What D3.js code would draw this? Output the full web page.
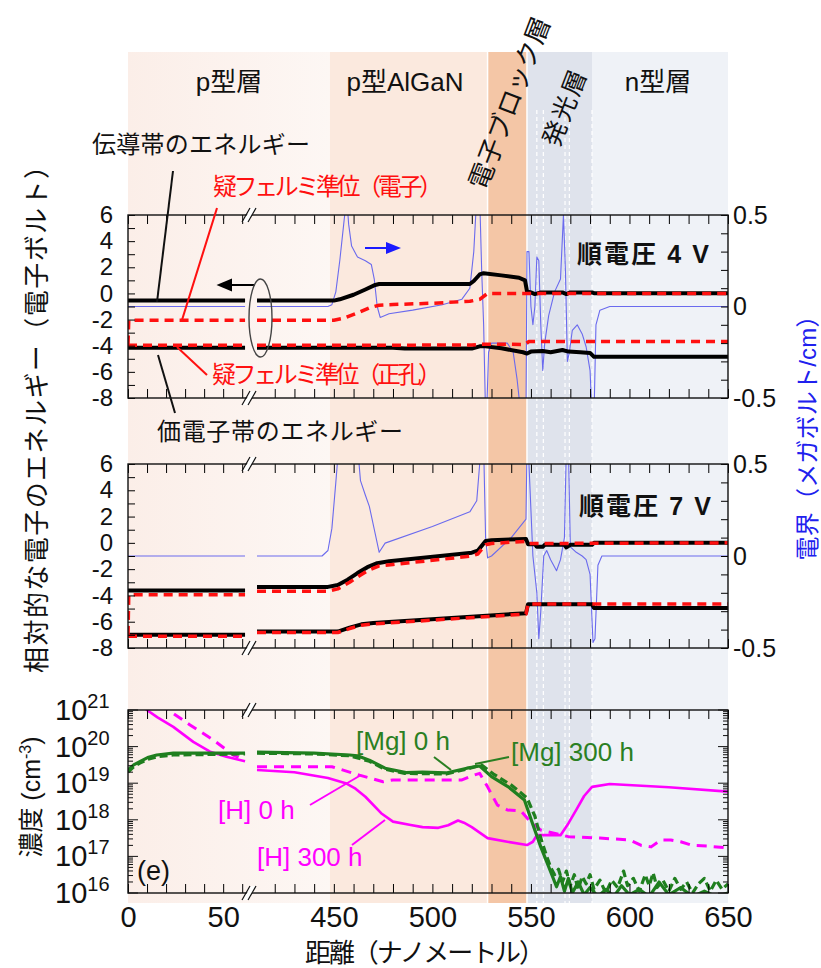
<!DOCTYPE html>
<html>
<head>
<meta charset="UTF-8">
<title>LED band diagram</title>
<script src="https://cdn.jsdelivr.net/npm/d3@7"></script>
<style>
body { margin: 0; background: #fff; }
text { font-family: "Liberation Sans", "Noto Sans CJK JP", sans-serif; fill: #111; }
</style>
</head>
<body>
<script>
// ---- data (distance in nm) ----
var layerEdges = [0, 448, 528, 548, 581, 650];
var layerColors = ["#fcf2ed", "#fbe9de", "#f4c6a6", "#dfe3ec", "#eff2f7"];
var wellEdges = [553, 556.3, 567.3, 569.5, 581];

var xTickLabels = [0, 50, 450, 500, 550, 600, 650];
var xMinorTicks = [0, 10, 20, 30, 40, 50, 60].concat(d3.range(420, 651, 10));
var energyTicks = [6, 4, 2, 0, -2, -4, -6, -8];
var fieldTicks = [0.5, 0, -0.5];
var concDecades = [16, 17, 18, 19, 20, 21];

var BRK = null; // axis break

// forward voltage 4 V
var cb4 = [[0,-0.55],[61.5,-0.55],BRK,[411,-0.55],[450,-0.55],[453,-0.45],[460,-0.1],[466,0.3],[471,0.65],[473,0.72],[519,0.72],[521,0.95],[524,1.45],[526,1.55],[535,1.38],[544,1.2],[547,1.0],[548,0.15],[550,0.08],[552,-0.05],[555,0.08],[566,0.08],[568,-0.05],[570,0.08],[581,0.08],[582,0.02],[650,0.02]];
var efn4 = [[0,-3.9],[0.4,-2.05],[61.5,-2.05],BRK,[411,-2.05],[450,-2.05],[455,-1.9],[462,-1.5],[468,-1.1],[473,-0.9],[480,-0.85],[500,-0.75],[519,-0.6],[524,-0.45],[528,0],[650,0]];
var efp4 = [[0,-3.97],[61.5,-3.97],BRK,[411,-3.97],[520,-3.95],[525,-3.88],[547,-3.9],[549,-3.68],[650,-3.68]];
var vb4 = [[0,-4.15],[61.5,-4.15],BRK,[411,-4.15],[480,-4.15],[486,-4.22],[520,-4.22],[524,-4.05],[527,-4.05],[535,-4.2],[546,-4.5],[548,-4.6],[550,-4.45],[556,-4.4],[560,-4.5],[566,-4.33],[569,-4.45],[575,-4.5],[580,-4.55],[582,-4.85],[650,-4.85]];
var ef4 = [[0,0],[61.5,0],BRK,[411,0],[447,0],[449,0.01],[451,0.08],[453,0.25],[455,0.45],[456.5,0.6],[457.5,0.45],[459,0.33],[462,0.27],[466,0.25],[469,0.23],[470.5,0.15],[472,0.0],[473.5,-0.06],[478,-0.04],[490,-0.02],[505,0.01],[515,0.04],[519,0.1],[521,0.3],[522.5,0.6],[524,0.6],[525,0.2],[526,-0.1],[527,-0.6],[527.5,-0.6],[528.5,-0.25],[530,-0.2],[538,-0.2],[541,-0.25],[543,-0.4],[545,-0.6],[547.5,-0.6],[548,0.3],[549,0.3],[550,0.0],[551,-0.1],[552,0.0],[553,0.27],[554,0.25],[555,-0.1],[556,-0.35],[557,-0.2],[559,-0.05],[562,0.08],[565,0.15],[566.5,0.5],[567.5,0.2],[568.5,-0.3],[569.5,-0.25],[571,-0.13],[573.5,-0.1],[576,-0.15],[578,-0.22],[580,-0.35],[581,-0.6],[582,-0.6],[583,-0.1],[585,-0.02],[590,0],[650,0]];

// forward voltage 7 V
var cb7 = [[0,-3.62],[61.5,-3.62],BRK,[411,-3.35],[447,-3.35],[452,-3.2],[457,-2.8],[462,-2.3],[467,-1.85],[472,-1.55],[478,-1.4],[520,-0.75],[523,-0.6],[527,0.15],[530,0.2],[547.5,0.3],[548.5,-0.1],[552,-0.1],[553,-0.3],[556,-0.3],[557,-0.15],[567,-0.15],[568,-0.35],[570,-0.15],[581,-0.15],[582,0.0],[650,0.0]];
var efn7 = [[0,-7.0],[0.4,-3.95],[61.5,-3.95],BRK,[411,-3.68],[447,-3.68],[452,-3.5],[458,-3.0],[463,-2.5],[468,-2.05],[473,-1.75],[480,-1.65],[520,-1.0],[523,-0.85],[527,-0.15],[530,-0.05],[547.5,0.12],[549,-0.05],[650,0.0]];
var vb7 = [[0,-7.0],[61.5,-7.0],BRK,[411,-6.75],[452,-6.75],[458,-6.45],[464,-6.2],[470,-6.1],[547.5,-5.35],[548.5,-4.68],[581,-4.68],[582,-4.95],[650,-4.95]];
var efp7 = [[0,-7.1],[61.5,-7.1],BRK,[411,-6.82],[452,-6.82],[458,-6.52],[464,-6.27],[470,-6.17],[547.5,-5.42],[548.5,-4.66],[650,-4.66]];
var ef7 = [[0,0],[61.5,0],BRK,[411,0],[444,0],[447,0.03],[449,0.15],[451,0.4],[452.5,0.6],[462,0.6],[463.5,0.41],[466,0.33],[468,0.27],[471,0.12],[473,0.02],[476,0.07],[500,0.16],[519,0.24],[522.5,0.3],[524,0.5],[525,0.6],[526,0.6],[527,0.1],[528,-0.01],[530,0.0],[540,0.1],[547.5,0.2],[548,0.6],[549,0.5],[551,0.0],[553,-0.2],[554,-0.45],[555,-0.3],[556.5,0.0],[558,0.03],[560,-0.02],[563,-0.08],[565,-0.02],[567,0.1],[568,0.6],[569,0.6],[570,0.05],[573,0.02],[576,0.0],[578,-0.02],[580,-0.1],[581.5,-0.47],[582.5,-0.45],[584,-0.05],[586,0.0],[650,0.0]];

// concentrations, log10(cm^-3)
var h0 = [[7,21.2],[9.9,21.0],[15.5,20.8],[23.8,20.54],[34.3,20.13],[43.1,19.86],[51.7,19.72],[61.5,19.6],BRK,[411,19.36],[430,19.3],[447,19.14],[456,19.0],[461,18.85],[466,18.63],[474,18.18],[480,17.95],[489,17.86],[495,17.8],[503,17.78],[508,17.85],[513,17.98],[516,17.92],[520,17.8],[528,17.5],[538,17.4],[548,17.31],[551,17.4],[553,17.58],[565,17.58],[569,17.9],[573,18.27],[577,18.65],[581,18.9],[590,18.98],[620,18.89],[650,18.77]];
var h300 = [[17.5,21.2],[21.2,21.0],[32.6,20.59],[44.9,20.18],[55.3,19.77],[61.5,19.63],BRK,[411,19.45],[449,19.45],[463,19.22],[475,19.04],[480,19.09],[515,19.09],[520,19.2],[524,19.27],[528,18.9],[533,18.4],[538,18.27],[545,18.24],[549,17.99],[555,17.72],[569,17.54],[585,17.5],[600,17.45],[606,17.3],[611,17.26],[616,17.45],[621,17.45],[626,17.4],[632,17.3],[640,17.28],[650,17.23]];
var mg0 = [[0,19.36],[3,19.5],[6.2,19.59],[10.3,19.7],[15.1,19.77],[23.8,19.82],[61.5,19.82],BRK,[411,19.85],[440,19.82],[458,19.77],[462,19.75],[468,19.63],[476,19.41],[486.6,19.29],[495,19.3],[507,19.28],[517.5,19.41],[524,19.47],[530,19.18],[538.5,18.9],[546.7,18.54],[550.8,17.9],[555,17.26],[559,16.72],[563,16.17],[565,16.45],[567,16.05],[569,16.4],[571,16.0],[574,16.3],[577,15.95],[580,16.15],[584,15.9],[588,16.1],[592,15.9],[596,16.2],[600,15.95],[605,16.1],[610,15.9],[615,16.3],[620,15.95],[626,16.15],[632,15.9],[638,16.05],[644,15.9],[650,16.0]];
var mg300 = [[0,19.3],[3,19.45],[6.2,19.55],[10.3,19.65],[15.1,19.72],[23.8,19.77],[61.5,19.8],BRK,[411,19.82],[440,19.8],[458,19.75],[468,19.6],[476,19.38],[486,19.27],[507,19.25],[517,19.38],[525,19.5],[531,19.25],[540,18.95],[548,18.6],[552,18.1],[555,17.5],[558,17.0],[560,16.7],[562,16.5],[564,16.65],[566,16.3],[568,16.6],[570,16.2],[572,16.5],[574,16.1],[576,16.45],[578,16.25],[580,16.5],[582,16.1],[585,16.35],[588,16.0],[591,16.35],[594,16.15],[597,16.6],[599,16.2],[602,16.4],[605,16.05],[608,16.5],[610,16.2],[612,16.55],[614,16.15],[617,16.35],[620,16.05],[623,16.4],[626,16.1],[629,16.3],[632,16.0],[635,16.25],[638,16.4],[641,16.05],[644,16.35],[647,16.1],[650,16.25]];

// ---- layout ----
var W = 821, H = 968;
var L = 128, R = 728;
var panels = [
  {top: 215, bot: 398},
  {top: 464, bot: 648},
  {top: 710, bot: 893}
];

var svg = d3.select("body").append("svg").attr("width", W).attr("height", H);

// broken distance axis: 0-62 nm then 411-650 nm
var x = d3.scaleLinear().domain([0, 62, 411, 650]).range([L, 246, 257, R]);

// ---- layer backgrounds ----
var defs = svg.append("defs");
var grad = defs.append("linearGradient").attr("id", "pgrad");
grad.append("stop").attr("offset", "0%").attr("stop-color", "#fbeee8");
grad.append("stop").attr("offset", "100%").attr("stop-color", "#fdf7f4");

var bgTop = 52, bgBot = 903;
svg.selectAll("rect.layer")
  .data(d3.range(layerEdges.length - 1))
  .enter().append("rect")
    .attr("class", "layer")
    .attr("x", function(i) { return x(layerEdges[i]); })
    .attr("y", bgTop)
    .attr("width", function(i) { return x(layerEdges[i + 1]) - x(layerEdges[i]); })
    .attr("height", bgBot - bgTop)
    .attr("fill", function(i) { return i == 0 ? "url(#pgrad)" : layerColors[i]; });

// white borders around electron block layer
[528, 548].forEach(function(v) {
  svg.append("line").attr("x1", x(v)).attr("x2", x(v)).attr("y1", bgTop).attr("y2", bgBot)
    .attr("stroke", "#fff").attr("stroke-width", 1.5);
});
// quantum well edges (dashed white)
wellEdges.forEach(function(v) {
  svg.append("line").attr("x1", x(v)).attr("x2", x(v)).attr("y1", 110).attr("y2", bgBot)
    .attr("stroke", "#fff").attr("stroke-width", 1.2).attr("stroke-dasharray", "4,3");
});

// layer names
var topLabels = [["p型層", 229], ["p型AlGaN", 405], ["n型層", 658]];
topLabels.forEach(function(t) {
  svg.append("text").attr("x", t[1]).attr("y", 82).attr("dy", "0.35em")
    .attr("text-anchor", "middle").attr("font-size", 26).attr("fill", "#222").text(t[0]);
});
svg.append("text").attr("transform", "translate(477,188) rotate(-69)")
  .attr("dy", "0.35em").attr("font-size", 26).attr("fill", "#222").text("電子ブロック層");
svg.append("text").attr("transform", "translate(550.5,145) rotate(-69)")
  .attr("dy", "0.35em").attr("font-size", 25).attr("letter-spacing", 2).attr("fill", "#222").text("発光層");

// ---- helpers ----
function drawLine(g, data, yf, color, width, dash) {
  var line = d3.line()
    .defined(function(d) { return d !== null; })
    .x(function(d) { return x(d[0]); })
    .y(function(d) { return yf(d[1]); });
  var p = g.append("path").datum(data)
    .attr("d", line)
    .attr("fill", "none")
    .attr("stroke", color)
    .attr("stroke-width", width)
    .attr("stroke-linejoin", "round");
  if (dash) p.attr("stroke-dasharray", dash);
  return p;
}

function frame(p, i) {
  defs.append("clipPath").attr("id", "clip" + i)
    .append("rect").attr("x", L).attr("y", p.top).attr("width", R - L).attr("height", p.bot - p.top);
  return svg.append("g").attr("clip-path", "url(#clip" + i + ")");
}

function xTicks(p) {
  svg.append("g").attr("transform", "translate(0," + p.bot + ")")
    .call(d3.axisBottom(x).tickValues(xMinorTicks).tickSize(-9).tickFormat(""))
    .call(function(g) { g.select(".domain").remove(); });
  svg.append("g").attr("transform", "translate(0," + p.top + ")")
    .call(d3.axisTop(x).tickValues(xMinorTicks).tickSize(-9).tickFormat(""))
    .call(function(g) { g.select(".domain").remove(); });
}

function border(p) {
  svg.append("rect").attr("x", L).attr("y", p.top).attr("width", R - L).attr("height", p.bot - p.top)
    .attr("fill", "none").attr("stroke", "#111").attr("stroke-width", 1.4);
  // break marks
  [p.top, p.bot].forEach(function(yy) {
    svg.append("polygon")
      .attr("points", [[243, yy + 7], [251, yy - 7], [256, yy - 7], [248, yy + 7]].join(" "))
      .attr("fill", "#fff");
    [0, 6].forEach(function(o) {
      svg.append("line").attr("x1", 242 + o).attr("y1", yy + 7).attr("x2", 250 + o).attr("y2", yy - 7)
        .attr("stroke", "#111").attr("stroke-width", 1.2);
    });
  });
}

function energyPanel(p, i, cb, efn, efp, vb, ef) {
  var yE = d3.scaleLinear().domain([-8, 6]).range([p.bot, p.top]);
  var yF = d3.scaleLinear().domain([-0.5, 0.5]).range([p.bot, p.top]);
  var g = frame(p, i);
  drawLine(g, ef, yF, "#6a6aee", 1.1);
  drawLine(g, cb, yE, "#000", 4);
  drawLine(g, vb, yE, "#000", 4);
  drawLine(g, efn, yE, "#ff1010", 3.5, "9,6");
  drawLine(g, efp, yE, "#ff1010", 3.5, "9,6");
  xTicks(p);
  // left axis
  svg.append("g").attr("transform", "translate(" + L + ",0)")
    .call(d3.axisLeft(yE).tickValues(d3.range(-8, 7, 1)).tickSize(-7).tickFormat(""))
    .call(function(g) { g.select(".domain").remove(); });
  svg.append("g").attr("transform", "translate(" + L + ",0)")
    .call(d3.axisLeft(yE).tickValues(energyTicks).tickSize(0).tickPadding(15).tickFormat(function(d) { return String(d); }))
    .call(function(g) {
      g.select(".domain").remove();
      g.selectAll("text").attr("font-size", 24).attr("font-family", "Liberation Sans, sans-serif").attr("fill", "#111");
    });
  // right axis
  svg.append("g").attr("transform", "translate(" + R + ",0)")
    .call(d3.axisRight(yF).tickValues(d3.range(-5, 6).map(function(k) { return k / 10; })).tickSize(-7).tickFormat(""))
    .call(function(g) { g.select(".domain").remove(); });
  svg.append("g").attr("transform", "translate(" + R + ",0)")
    .call(d3.axisRight(yF).tickValues(fieldTicks).tickSize(0).tickPadding(5).tickFormat(function(d) { return String(d); }))
    .call(function(g) {
      g.select(".domain").remove();
      g.selectAll("text").attr("font-size", 25).attr("font-family", "Liberation Sans, sans-serif").attr("fill", "#111");
    });
  border(p);
}

// ---- panels 1 and 2 ----
energyPanel(panels[0], 0, cb4, efn4, efp4, vb4, ef4);
energyPanel(panels[1], 1, cb7, efn7, efp7, vb7, ef7);

svg.append("text").attr("x", 577).attr("y", 254).attr("dy", "0.35em").attr("font-size", 25)
  .attr("font-weight", "bold").attr("textLength", 132).text("順電圧 4 V");
svg.append("text").attr("x", 579).attr("y", 506).attr("dy", "0.35em").attr("font-size", 25)
  .attr("font-weight", "bold").attr("textLength", 132).text("順電圧 7 V");

// ---- panel 3 (log) ----
var p3 = panels[2];
var yC = d3.scaleLog().domain([1e16, 1e21]).range([p3.bot, p3.top]);
var yCl = function(v) { return yC(Math.pow(10, v)); };
var g3 = frame(p3, 2);
drawLine(g3, h300, yCl, "#ff00ff", 3, "10,7");
drawLine(g3, h0, yCl, "#ff00ff", 2.6);
drawLine(g3, mg300, yCl, "#1f7f1f", 3.2, "8,4");
drawLine(g3, mg0, yCl, "#1f7f1f", 3.2);
xTicks(p3);

var logTicks = [];
concDecades.forEach(function(dd) {
  if (dd < 21) for (var k = 2; k <= 9; k++) logTicks.push(k * Math.pow(10, dd));
});
[[L, 1], [R, -1]].forEach(function(side) {
  var gg = svg.append("g");
  gg.selectAll("line.minor").data(logTicks).enter().append("line")
    .attr("x1", side[0]).attr("x2", side[0] + side[1] * 5)
    .attr("y1", function(d) { return yC(d); }).attr("y2", function(d) { return yC(d); })
    .attr("stroke", "#111").attr("stroke-width", 1);
  gg.selectAll("line.major").data(concDecades).enter().append("line")
    .attr("x1", side[0]).attr("x2", side[0] + side[1] * 10)
    .attr("y1", function(d) { return yC(Math.pow(10, d)); }).attr("y2", function(d) { return yC(Math.pow(10, d)); })
    .attr("stroke", "#111").attr("stroke-width", 1);
});
var lab = svg.selectAll("text.decade").data(concDecades).enter().append("text")
  .attr("class", "decade")
  .attr("x", 55)
  .attr("y", function(d) { return yC(Math.pow(10, d)) + 10; })
  .attr("font-size", 29);
lab.append("tspan").text("10");
lab.append("tspan").attr("dy", -12).attr("font-size", 20).text(function(d) { return d; });
border(p3);

// x tick labels
svg.append("g").attr("transform", "translate(0," + p3.bot + ")")
  .call(d3.axisBottom(x).tickValues(xTickLabels).tickSize(0).tickPadding(13))
  .call(function(g) {
    g.select(".domain").remove();
    g.selectAll("text").attr("font-size", 29).attr("font-family", "Liberation Sans, sans-serif").attr("fill", "#111");
  });

// ---- axis titles ----
svg.append("text").attr("transform", "translate(37,413) rotate(-90)").attr("dy", "0.35em")
  .attr("text-anchor", "middle").attr("font-size", 26).attr("textLength", 520).text("相対的な電子のエネルギー（電子ボルト）");
svg.append("text").attr("transform", "translate(808,432) rotate(-90)").attr("dy", "0.35em")
  .attr("text-anchor", "middle").attr("font-size", 24).style("fill", "#2020ee")
  .attr("textLength", 257).text("電界（メガボルト/cm）");
var ct = svg.append("text").attr("transform", "translate(31,797) rotate(-90)").attr("dy", "0.35em")
  .attr("text-anchor", "middle").attr("font-size", 25);
ct.append("tspan").text("濃度 (cm");
ct.append("tspan").attr("dy", -9).attr("font-size", 16).text("-3");
ct.append("tspan").attr("dy", 9).text(")");
svg.append("text").attr("x", 425).attr("y", 953).attr("dy", "0.35em").attr("text-anchor", "middle")
  .attr("font-size", 26).attr("textLength", 240).text("距離（ナノメートル）");

// ---- annotations, panel 1 ----
function note(txt, x0, yc, w, color) {
  svg.append("text").attr("x", x0).attr("y", yc).attr("dy", "0.35em").attr("font-size", 24)
    .attr("textLength", w).style("fill", color).text(txt);
}
function pointer(x1, y1, x2, y2, color, w) {
  svg.append("line").attr("x1", x1).attr("y1", y1).attr("x2", x2).attr("y2", y2)
    .attr("stroke", color).attr("stroke-width", w || 2);
}
note("伝導帯のエネルギー", 92, 145, 218, "#111");
pointer(173, 171, 157, 302, "#111");
note("疑フェルミ準位（電子）", 213, 187, 230, "#ff1010");
pointer(217, 208, 182, 320, "#ff1010");
note("疑フェルミ準位（正孔）", 212, 375, 230, "#ff1010");
pointer(207, 375, 177, 347, "#ff1010");
note("価電子帯のエネルギー", 157, 432, 246, "#111");
pointer(175, 413, 158, 355, "#111");

// left arrow + ellipse (energy axis), right arrow (field axis)
svg.append("line").attr("x1", 230).attr("y1", 285).attr("x2", 255).attr("y2", 285).attr("stroke", "#000").attr("stroke-width", 2);
svg.append("polygon").attr("points", "216.5,285 232,278.5 232,291.5").attr("fill", "#000");
svg.append("ellipse").attr("cx", 260.5).attr("cy", 318).attr("rx", 11.5).attr("ry", 39)
  .attr("fill", "none").attr("stroke", "#444").attr("stroke-width", 1.4);
svg.append("line").attr("x1", 365).attr("y1", 248).attr("x2", 388).attr("y2", 248).attr("stroke", "#1a1aff").attr("stroke-width", 2);
svg.append("polygon").attr("points", "401,248 386,242 386,254").attr("fill", "#1a1aff");

// ---- annotations, panel 3 ----
svg.append("text").attr("x", 137).attr("y", 871).attr("dy", "0.35em").attr("font-size", 27).text("(e)");
function note3(txt, x0, yc, color) {
  svg.append("text").attr("x", x0).attr("y", yc).attr("dy", "0.35em").attr("font-size", 26)
    .style("fill", color).text(txt);
}
note3("[Mg] 0 h", 356, 741, "#2a7f22");
pointer(434, 757, 451, 770, "#2a7f22");
note3("[Mg] 300 h", 511, 752, "#2a7f22");
pointer(509, 757, 475, 764, "#2a7f22");
note3("[H] 0 h", 218, 810, "#ff00ff");
pointer(310, 805, 361, 775, "#ff00ff");
note3("[H] 300 h", 257, 857, "#ff00ff");
pointer(352, 845, 385, 820, "#ff00ff");
</script>
</body>
</html>
